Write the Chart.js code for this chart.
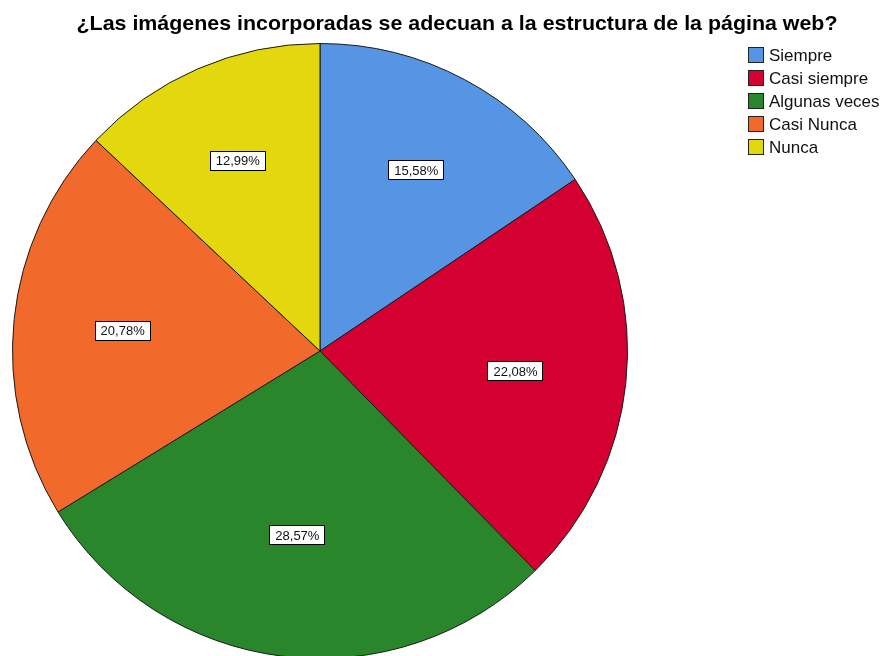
<!DOCTYPE html>
<html>
<head>
<meta charset="utf-8">
<script src="https://cdn.jsdelivr.net/npm/chart.js@4"></script>
<style>
  html, body { margin: 0; padding: 0; background: #fff; overflow: hidden; }
  #wrap { width: 885px; height: 680px; }
</style>
</head>
<body>
<div id="wrap"><canvas id="pieChart" width="885" height="680"></canvas></div>
<script>
// Data
const chartTitle = '¿Las imágenes incorporadas se adecuan a la estructura de la página web?';
const categories = ['Siempre', 'Casi siempre', 'Algunas veces', 'Casi Nunca', 'Nunca'];
const percentages = [15.58, 22.08, 28.57, 20.78, 12.99];
const sliceColors = ['#5595E3', '#D50032', '#2A862A', '#F26A2B', '#E3D70E'];

// Title + legend drawn manually so the pie keeps its place
const decorPlugin = {
    id: 'decor',
    afterDraw(chart) {
        const ctx = chart.ctx;
        ctx.save();
        ctx.fillStyle = '#000';
        ctx.font = 'bold 21px "Liberation Sans", Arial, sans-serif';
        ctx.textAlign = 'center';
        ctx.textBaseline = 'middle';
        // squeeze title to the width seen in the reference
        const tw = ctx.measureText(chartTitle).width;
        ctx.save();
        ctx.translate(457, 24);
        ctx.scale(761 / tw, 1);
        ctx.fillText(chartTitle, 0, 0);
        ctx.restore();

        // legend
        ctx.font = '17px "Liberation Sans", Arial, sans-serif';
        ctx.textAlign = 'left';
        categories.forEach((name, i) => {
            const y = 55 + i * 23;
            ctx.fillStyle = sliceColors[i];
            ctx.fillRect(748, y - 8, 16, 16);
            ctx.strokeStyle = '#222';
            ctx.lineWidth = 1;
            ctx.strokeRect(748.5, y - 7.5, 15, 15);
            ctx.fillStyle = '#111';
            ctx.fillText(name, 769, y + 1);
        });

        // percentage labels in boxes, placed near each slice's centroid
        const meta = chart.getDatasetMeta(0);
        ctx.font = '13px "Liberation Sans", Arial, sans-serif';
        ctx.textAlign = 'center';
        meta.data.forEach((arc, i) => {
            const p = arc.getProps(['x', 'y', 'startAngle', 'endAngle', 'outerRadius'], true);
            const mid = (p.startAngle + p.endAngle) / 2;
            const half = (p.endAngle - p.startAngle) / 2;
            const r = 1.04 * 2 * p.outerRadius * Math.sin(half) / (3 * half);
            const x = p.x + Math.cos(mid) * r;
            const y = p.y + Math.sin(mid) * r;
            const txt = percentages[i].toFixed(2).replace('.', ',') + '%';
            const w = Math.round(ctx.measureText(txt).width + 12);
            const h = 20;
            const bx = Math.round(x - w / 2), by = Math.round(y - h / 2);
            ctx.fillStyle = '#fff';
            ctx.fillRect(bx, by, w, h);
            ctx.strokeStyle = '#000';
            ctx.strokeRect(bx + 0.5, by + 0.5, w - 1, h - 1);
            ctx.fillStyle = '#111';
            ctx.fillText(txt, x, y + 1);
        });
        ctx.restore();
    }
};

new Chart(document.getElementById('pieChart'), {
    type: 'pie',
    data: {
        labels: categories,
        datasets: [{
            data: percentages,
            backgroundColor: sliceColors,
            borderColor: '#1a1a1a',
            borderWidth: 1
        }]
    },
    options: {
        responsive: false,
        animation: false,
        layout: { padding: { left: 12, top: 43, right: 257, bottom: 21 } },
        plugins: {
            legend: { display: false },
            title: { display: false },
            tooltip: { enabled: false }
        }
    },
    plugins: [decorPlugin]
});
</script>
</body>
</html>
